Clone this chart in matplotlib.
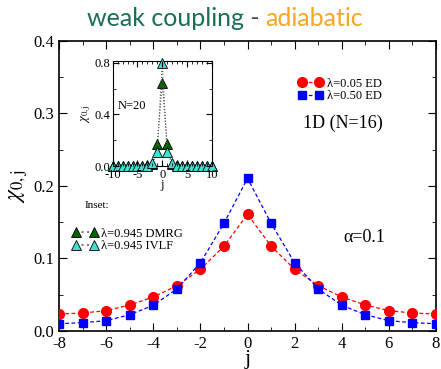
import matplotlib
matplotlib.use("Agg")
import matplotlib.pyplot as plt
from matplotlib.ticker import MultipleLocator

# ---- data ----
j = [-8, -7, -6, -5, -4, -3, -2, -1, 0, 1, 2, 3, 4, 5, 6, 7, 8]
chi_l005 = [0.0234, 0.0248, 0.028, 0.0359, 0.0469, 0.0625, 0.085, 0.117, 0.161,
            0.117, 0.085, 0.0625, 0.0469, 0.0359, 0.028, 0.0248, 0.0234]
chi_l050 = [0.010, 0.0115, 0.0142, 0.0225, 0.0354, 0.058, 0.094, 0.1485, 0.2106,
            0.1485, 0.094, 0.058, 0.0354, 0.0225, 0.0142, 0.0115, 0.010]

j_in = list(range(-10, 11))
chi_dmrg = [0.004, 0.004, 0.004, 0.004, 0.004, 0.004, 0.004, 0.005, 0.012, 0.168, 0.64,
            0.168, 0.012, 0.005, 0.004, 0.004, 0.004, 0.004, 0.004, 0.004, 0.004]
chi_ivlf = [0.003, 0.003, 0.003, 0.003, 0.003, 0.003, 0.003, 0.004, 0.02, 0.106, 0.80,
            0.106, 0.02, 0.004, 0.003, 0.003, 0.003, 0.003, 0.003, 0.003, 0.003]

serif = ["Liberation Serif", "DejaVu Serif"]
plt.rcParams['font.family'] = serif
plt.rcParams['mathtext.fontset'] = 'stix'
plt.rcParams['axes.unicode_minus'] = False

fig = plt.figure(figsize=(4.41, 3.69), dpi=100)
ax = fig.add_axes([0.1338, 0.103, 0.855, 0.786])

ax.plot(j, chi_l005, ls=(0, (3, 2)), color='red', lw=0.9, marker='o', ms=7,
        mfc='red', mec='red', label='λ=0.05 ED', zorder=3)
ax.plot(j, chi_l050, ls=(0, (3, 2)), color='blue', lw=0.9, marker='s', ms=6.3,
        mfc='blue', mec='blue', label='λ=0.50 ED', zorder=3)

ax.set_xlim(-8, 8)
ax.set_ylim(0, 0.4)
ax.xaxis.set_major_locator(MultipleLocator(2))
ax.xaxis.set_minor_locator(MultipleLocator(1))
ax.yaxis.set_major_locator(MultipleLocator(0.1))
ax.yaxis.set_minor_locator(MultipleLocator(0.05))
ax.tick_params(which='both', direction='in', top=True, right=True, labelsize=12)
ax.tick_params(which='major', length=6)
ax.tick_params(which='minor', length=3)
ax.set_xlabel('j', fontsize=16, labelpad=-1)
ax.set_ylabel(r'$\chi_{0,\mathrm{j}}$', fontsize=17, labelpad=2)
for s in ax.spines.values():
    s.set_linewidth(1.2)

leg = ax.legend(loc='upper left', bbox_to_anchor=(0.62, 0.89), numpoints=2,
                frameon=False, fontsize=9, handlelength=2.0, handletextpad=0.3,
                labelspacing=0.05, borderaxespad=0)

ax.text(0.647, 0.717, '1D (N=16)', transform=ax.transAxes, fontsize=13, va='center')
ax.text(0.753, 0.324, 'α=0.1', transform=ax.transAxes, fontsize=13, va='center')
ax.text(0.069, 0.434, 'Inset:', transform=ax.transAxes, fontsize=8, va='center')

# inset legend (proxy handles in main axes)
h1, = ax.plot([], [], ls=':', color='gray', marker='^', ms=6.5, mfc='#006400', mec='black',
              mew=0.6)
h2, = ax.plot([], [], ls=':', color='gray', marker='^', ms=6.5, mfc='#40E0D0', mec='black',
              mew=0.6)
leg2 = ax.legend([h1, h2], ['λ=0.945 DMRG', 'λ=0.945 IVLF'], loc='upper left',
                 bbox_to_anchor=(0.022, 0.374), numpoints=2, frameon=False, fontsize=9,
                 handlelength=2.0, handletextpad=0.3, labelspacing=0.05, borderaxespad=0)
ax.add_artist(leg)

# ---- inset ----
ins = fig.add_axes([0.2556, 0.550, 0.2245, 0.2854])
ins.plot(j_in, chi_dmrg, ls=':', color='#555555', lw=0.8, marker='^', ms=6.5,
         mfc='#006400', mec='black', mew=0.6, zorder=3, clip_on=False)
ins.plot(j_in, chi_ivlf, ls=':', color='#555555', lw=0.8, marker='^', ms=6.5,
         mfc='#40E0D0', mec='black', mew=0.6, zorder=4, clip_on=False)
ins.set_xlim(-10, 10)
ins.set_ylim(0, 0.815)
ins.xaxis.set_major_locator(MultipleLocator(5))
ins.xaxis.set_minor_locator(MultipleLocator(1))
ins.yaxis.set_major_locator(MultipleLocator(0.4))
ins.yaxis.set_minor_locator(MultipleLocator(0.2))
ins.tick_params(which='both', direction='in', top=True, right=True, labelsize=9, pad=2)
ins.tick_params(which='major', length=4)
ins.tick_params(which='minor', length=2)
ins.xaxis.set_zorder(6)
ins.yaxis.set_zorder(6)
ins.set_xlabel('j', fontsize=9, labelpad=-1)
ins.set_ylabel(r'$\chi_{0,\mathrm{j}}$', fontsize=9, labelpad=1)
ins.text(0.05, 0.57, 'N=20', transform=ins.transAxes, fontsize=9, va='center')

# ---- title ----
tf = ["Lato", "DejaVu Sans"]
parts = [('weak coupling', '#1a6e55'), (' - ', '#444444'), ('adiabatic', '#f5a623')]
renderer = fig.canvas.get_renderer()
widths = []
objs = []
for s, c in parts:
    t = fig.text(0, 0.93, s, color=c, fontsize=18, family=tf, va='baseline')
    objs.append(t)
    widths.append(t.get_window_extent(renderer).width)
total = sum(widths)
x0 = (225 - total / 2) / 441
for t, w in zip(objs, widths):
    t.set_x(x0)
    x0 += w / 441

fig.savefig('out.png', dpi=100)
